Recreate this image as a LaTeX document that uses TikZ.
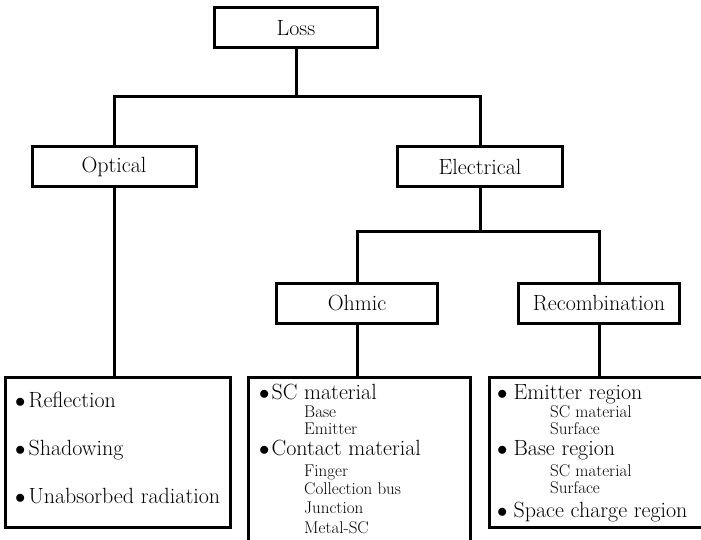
\documentclass[tikz,border=0pt]{standalone}
\usepackage{tikz}
\usetikzlibrary{positioning}

\begin{document}
\begin{tikzpicture}[
  x=1pt, y=-1pt,
  box/.style={
    draw, line width=3pt,
    inner sep=0pt, minimum height=40pt,
    font=\fontsize{22}{26}\selectfont
  },
  listbox/.style={
    draw, line width=3pt,
    inner sep=0pt
  },
  item/.style={
    anchor=base west, inner sep=0pt,
    font=\fontsize{22}{26}\selectfont
  },
  sub/.style={
    anchor=base west, inner sep=0pt,
    font=\fontsize{17}{20}\selectfont
  },
  link/.style={line width=3pt}
]
\useasboundingbox (0,0) rectangle (701,540);

% tree boxes
\node[box, minimum width=163pt] (loss) at (296,28) {Loss};
\node[box, minimum width=164pt] (optical) at (114,167) {Optical};
\node[box, minimum width=165pt] (electrical) at (480,167) {Electrical};
\node[box, minimum width=161pt] (ohmic) at (357,303) {Ohmic};
\node[box, minimum width=161pt] (recomb) at (599,303) {Recombination};

% list boxes
\node[listbox, minimum width=225pt, minimum height=150pt]
  (reflbox) at (117.5,452) {};
\node[listbox, minimum width=222pt, minimum height=165pt]
  (ohmbox) at (359,459.5) {};
\node[listbox, minimum width=216pt, minimum height=150pt]
  (recbox) at (597,452) {};

% connectors
\coordinate (split1) at (296,97);
\coordinate (split2) at (480,231);
\draw[link] (loss.south) -- (split1);
\draw[link] (optical.north) |- (split1) -| (electrical.north);
\draw[link] (electrical.south) -- (split2);
\draw[link] (ohmic.north) |- (split2) -| (recomb.north);
\draw[link] (optical.south) -- (optical.south |- reflbox.north);
\draw[link] (ohmic.south) -- (ohmic.south |- ohmbox.north);
\draw[link] (recomb.south) -- (recomb.south |- recbox.north);

% optical losses
\node[item] (refl) at (15,407) {$\bullet$\hspace{3pt}Reflection};
\node[item] (shadow) at (15,455) {$\bullet$\hspace{3pt}Shadowing};
\node[item] (unabs) at (15,503) {$\bullet$\hspace{3pt}Unabsorbed radiation};

% ohmic losses
\node[item] (scmat) at (259,399) {$\bullet$\hspace{2pt}SC material};
\node[sub] (scbase) at (304,417) {Base};
\node[sub] (scemit) at (304,434) {Emitter};
\node[item] (contact) at (259,455) {$\bullet$\hspace{2pt}Contact material};
\node[sub] (finger) at (304,476) {Finger};
\node[sub] (bus) at (304,494) {Collection bus};
\node[sub] (junction) at (304,513) {Junction};
\node[sub] (metalsc) at (304,533) {Metal-SC};

% recombination losses
\node[item] (emreg) at (497,399) {$\bullet$\hspace{6pt}Emitter region};
\node[sub] (emsc) at (550,417) {SC material};
\node[sub] (emsurf) at (550,434) {Surface};
\node[item] (basereg) at (497,455) {$\bullet$\hspace{6pt}Base region};
\node[sub] (basesc) at (550,476) {SC material};
\node[sub] (basesurf) at (550,493) {Surface};
\node[item] (spacereg) at (497,517) {$\bullet$\hspace{6pt}Space charge region};

\end{tikzpicture}
\end{document}
